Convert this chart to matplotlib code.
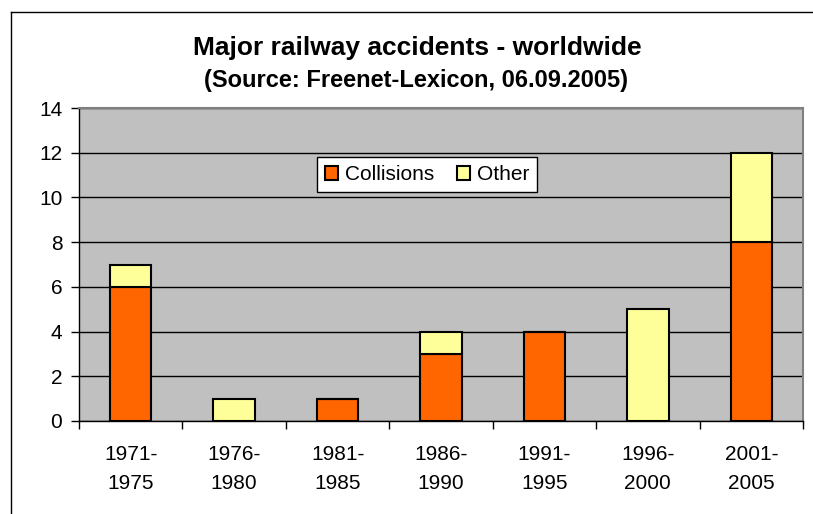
import matplotlib
matplotlib.use("Agg")
import matplotlib.pyplot as plt
from matplotlib.lines import Line2D
import numpy as np

plt.rcParams['font.family'] = ['Liberation Sans', 'DejaVu Sans']

categories = ["1971-\n1975", "1976-\n1980", "1981-\n1985", "1986-\n1990",
              "1991-\n1995", "1996-\n2000", "2001-\n2005"]
collisions = [6, 0, 1, 3, 4, 0, 8]
other = [1, 1, 0, 1, 0, 5, 4]
yticks = [0, 2, 4, 6, 8, 10, 12, 14]

W, H = 813, 514
fig = plt.figure(figsize=(W / 100, H / 100), dpi=100)
ax = fig.add_axes([79 / W, 1 - 421 / H, (803 - 79) / W, (421 - 108) / H])
ax.set_facecolor('#C0C0C0')

x = np.arange(len(categories))
ax.bar(x, collisions, width=0.4, color='#FF6600', edgecolor='black', linewidth=1.5,
       label='Collisions', zorder=3)
ax.bar(x, other, width=0.4, bottom=collisions, color='#FFFF99', edgecolor='black',
       linewidth=1.5, label='Other', zorder=3)

ax.set_xlim(-0.5, len(categories) - 0.5)
ax.set_ylim(0, 14)
ax.set_yticks(yticks)
ax.set_yticklabels([str(t) for t in yticks], fontsize=15)
ax.yaxis.grid(True, color='black', linewidth=1, zorder=1)
ax.set_axisbelow(True)

ax.set_xticks(x)
ax.set_xticklabels(categories, fontsize=15, linespacing=1.7)
ax.tick_params(axis='x', length=0, pad=17)
ax.set_xticks(np.arange(len(categories) + 1) - 0.5, minor=True)
ax.tick_params(axis='x', which='minor', length=6, width=1, direction='out', color='black')
ax.tick_params(axis='y', length=6, width=1, direction='out', pad=6)

for s in ['top', 'right']:
    ax.spines[s].set_color('#808080')
    ax.spines[s].set_linewidth(1.5)
for s in ['left', 'bottom']:
    ax.spines[s].set_color('black')
    ax.spines[s].set_linewidth(1)

leg = ax.legend(loc='center', bbox_to_anchor=((317 + 537) / 2 / W, 1 - 174.5 / H),
                bbox_transform=fig.transFigure, ncol=2, fontsize=15, frameon=True,
                fancybox=False, edgecolor='black', framealpha=1,
                handlelength=0.65, handleheight=0.65, handletextpad=0.3,
                columnspacing=1.1, borderpad=0.4, borderaxespad=0)
leg.get_frame().set_linewidth(1)

fig.text(417.5 / W, 1 - 55 / H, "Major railway accidents - worldwide", ha='center',
         va='baseline', fontsize=19, fontweight='bold')
fig.text(415.5 / W, 1 - 87 / H, "(Source: Freenet-Lexicon, 06.09.2005)", ha='center',
         va='baseline', fontsize=17, fontweight='bold')

fig.add_artist(Line2D([11 / W, 11 / W], [0, 1 - 12 / H], color='black', linewidth=1,
                      transform=fig.transFigure))
fig.add_artist(Line2D([11 / W, 1], [1 - 12 / H, 1 - 12 / H], color='black', linewidth=1,
                      transform=fig.transFigure))

fig.savefig('out.png', dpi=100)
